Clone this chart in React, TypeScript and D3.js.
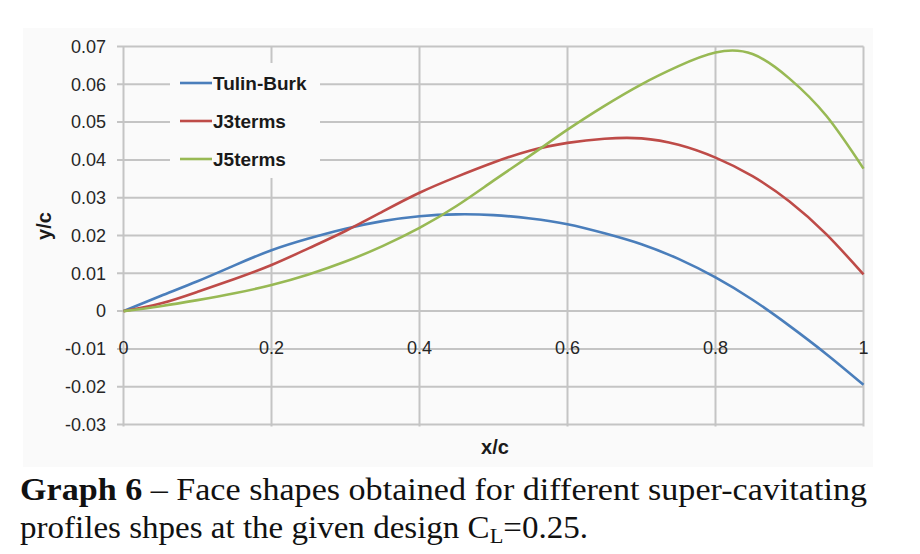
import * as d3 from "d3";

// chord positions x/c
const xc = [0, 0.05, 0.1, 0.15, 0.2, 0.25, 0.3, 0.35, 0.4, 0.45, 0.5, 0.55, 0.6, 0.65, 0.7, 0.75, 0.8, 0.85, 0.9, 0.95, 1];
// y/c for each profile
const tulinBurk = [0, 0.0040, 0.0079, 0.0121, 0.0161, 0.0192, 0.0218, 0.0238, 0.0251, 0.0256, 0.0254, 0.0245, 0.0230, 0.0206, 0.0177, 0.0138, 0.0089, 0.0030, -0.0039, -0.0114, -0.0195];
const j3terms = [0, 0.0020, 0.0051, 0.0085, 0.0122, 0.0166, 0.0212, 0.0263, 0.0313, 0.0355, 0.0393, 0.0425, 0.0445, 0.0456, 0.0457, 0.0440, 0.0406, 0.0357, 0.0290, 0.0203, 0.0097];
const j5terms = [0, 0.0013, 0.0029, 0.0047, 0.0069, 0.0097, 0.0131, 0.0172, 0.0220, 0.0278, 0.0345, 0.0412, 0.0480, 0.0543, 0.0600, 0.0648, 0.0684, 0.0680, 0.0615, 0.0516, 0.0377];

const seriesNames = ["Tulin-Burk", "J3terms", "J5terms"];
const seriesColors = ["#4a7ebb", "#be4b48", "#98b954"];
const yTicks = [0.07, 0.06, 0.05, 0.04, 0.03, 0.02, 0.01, 0, -0.01, -0.02, -0.03];
const xTicks = [0, 0.2, 0.4, 0.6, 0.8, 1];

const W = 920, H = 554;
const font = "'Liberation Sans', Arial, sans-serif";
const serif = "'Liberation Serif', 'Times New Roman', serif";

export default function App() {
    const x = d3.scaleLinear().domain([0, 1]).range([123.5, 863.5]);
    const y = d3.scaleLinear().domain([-0.03, 0.07]).range([424.5, 46.5]);
    const series = [tulinBurk, j3terms, j5terms];
    const line = d3.line<number>()
        .x((_, i) => x(xc[i]))
        .y((d) => y(d))
        .curve(d3.curveNatural);
    const gridColor = "#c4c4c4";

    return (
        <svg width={W} height={H} style={{ position: "absolute", left: 0, top: 0, background: "#fff" }}>
            {/* chart area */}
            <rect x={23} y={28} width={850} height={439} fill="#fafafa" />

            {/* horizontal grid */}
            {yTicks.map((t) => (
                <line key={"h" + t} x1={117} x2={x(1)} y1={y(t)} y2={y(t)} stroke={gridColor} strokeWidth={2} />
            ))}
            {/* vertical grid */}
            {xTicks.map((t) => (
                <line key={"v" + t} x1={x(t)} x2={x(t)} y1={y(0.07)} y2={y(-0.03) + 2} stroke={gridColor} strokeWidth={2} />
            ))}

            {/* y tick labels */}
            {yTicks.map((t) => (
                <text key={"yl" + t} x={106} y={y(t)} dy="0.35em" textAnchor="end" fontFamily={font} fontSize={18} fill="#262626">
                    {t === 0 ? "0" : t.toFixed(2)}
                </text>
            ))}
            {/* x tick labels */}
            {xTicks.map((t) => (
                <text key={"xl" + t} x={x(t)} y={348} dy="0.35em" textAnchor="middle" fontFamily={font} fontSize={18} fill="#262626">
                    {t === 0 || t === 1 ? String(t) : t.toFixed(1)}
                </text>
            ))}

            {/* series */}
            {series.map((s, i) => (
                <path key={seriesNames[i]} d={line(s) || ""} fill="none" stroke={seriesColors[i]} strokeWidth={2.6} />
            ))}

            {/* legend */}
            <rect x={170} y={63} width={150} height={115} fill="#fafafa" />
            {seriesNames.map((n, i) => (
                <g key={"lg" + n} transform={`translate(180, ${83 + i * 38})`}>
                    <line x1={0} x2={32} y1={0} y2={0} stroke={seriesColors[i]} strokeWidth={2.6} />
                    <text x={33} y={0} dy="0.35em" fontFamily={font} fontSize={19} fontWeight="bold" fill="#1a1a1a">{n}</text>
                </g>
            ))}

            {/* axis titles */}
            <text transform="translate(44, 226) rotate(-90)" textAnchor="middle" dy="0.35em" fontFamily={font} fontSize={20} fontWeight="bold" fill="#1a1a1a">y/c</text>
            <text x={495} y={447} dy="0.35em" textAnchor="middle" fontFamily={font} fontSize={20} fontWeight="bold" fill="#1a1a1a">x/c</text>

            {/* caption */}
            <text x={20} y={500} fontFamily={serif} fontSize={31} fill="#111"
                textLength={847} lengthAdjust="spacingAndGlyphs">
                <tspan fontWeight="bold">Graph 6</tspan> – Face shapes obtained for different super-cavitating
            </text>
            <text x={20} y={538} fontFamily={serif} fontSize={31} fill="#111"
                textLength={568} lengthAdjust="spacingAndGlyphs">
                profiles shpes at the given design C<tspan fontSize={21} dy={5}>L</tspan><tspan dy={-5}>=0.25.</tspan>
            </text>
        </svg>
    );
}
